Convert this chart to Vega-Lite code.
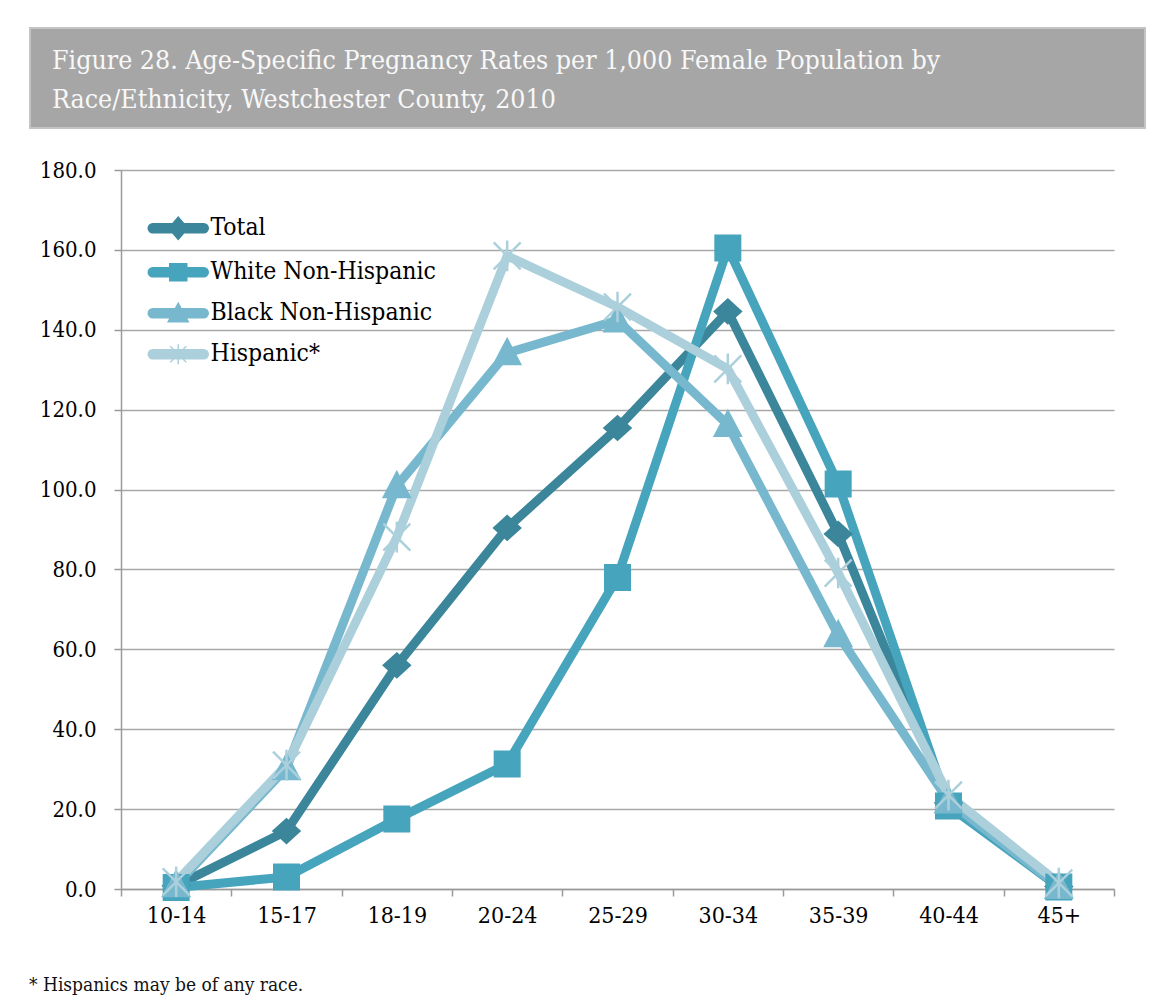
{
  "$schema": "https://vega.github.io/schema/vega-lite/v6.json",
  "padding": {"left": 29, "top": 27, "right": 10, "bottom": 0},
  "background": "white",
  "config": {"font": "DejaVu Serif Condensed", "view": {"stroke": null}},
  "spacing": 30,
  "resolve": {"legend": {"color": "independent"}},
  "title": {
    "text": "* Hispanics may be of any race.", "orient": "bottom", "anchor": "start", "frame": "bounds",
    "dx": 0, "offset": 49, "fontSize": 19, "fontWeight": "normal", "color": "#111111"
  },
  "vconcat": [
    {
      "width": 1115,
      "height": 100,
      "view": {"fill": "#a6a6a6", "stroke": "#c4c4c4", "strokeWidth": 2},
      "title": {
        "text": ["Figure 28. Age-Specific Pregnancy Rates per 1,000 Female Population by", "Race/Ethnicity, Westchester County, 2010"],
        "anchor": "start", "frame": "group", "orient": "top", "offset": -85, "dx": 22,
        "fontSize": 26.5, "fontWeight": "normal", "color": "#f8f8f8", "lineHeight": 39
      },
      "data": {"values": [{"a": 0}]},
      "mark": {"type": "text"},
      "encoding": {"text": {"value": ""}}
    },
    {
      "resolve": {"legend": {"color": "independent"}},
      "spacing": 8,
      "hconcat": [
        {
          "width": 1,
          "height": 10,
          "data": {"values": [{"a": 0}]},
          "mark": {"type": "text"},
          "encoding": {"text": {"value": ""}}
        },
        {
          "width": 993,
          "height": 719,
          "data": {"values": [
            {"age": "10-14", "group": "Total", "rate": 0.8},
            {"age": "15-17", "group": "Total", "rate": 14.5},
            {"age": "18-19", "group": "Total", "rate": 56.0},
            {"age": "20-24", "group": "Total", "rate": 90.4},
            {"age": "25-29", "group": "Total", "rate": 115.4},
            {"age": "30-34", "group": "Total", "rate": 144.6},
            {"age": "35-39", "group": "Total", "rate": 88.9},
            {"age": "40-44", "group": "Total", "rate": 21.5},
            {"age": "45+", "group": "Total", "rate": 0.6},
            {"age": "10-14", "group": "White Non-Hispanic", "rate": 0.4},
            {"age": "15-17", "group": "White Non-Hispanic", "rate": 3.0},
            {"age": "18-19", "group": "White Non-Hispanic", "rate": 17.5},
            {"age": "20-24", "group": "White Non-Hispanic", "rate": 31.3},
            {"age": "25-29", "group": "White Non-Hispanic", "rate": 78.0},
            {"age": "30-34", "group": "White Non-Hispanic", "rate": 160.5},
            {"age": "35-39", "group": "White Non-Hispanic", "rate": 101.4},
            {"age": "40-44", "group": "White Non-Hispanic", "rate": 20.8},
            {"age": "45+", "group": "White Non-Hispanic", "rate": 0.5},
            {"age": "10-14", "group": "Black Non-Hispanic", "rate": 1.0},
            {"age": "15-17", "group": "Black Non-Hispanic", "rate": 30.3},
            {"age": "18-19", "group": "Black Non-Hispanic", "rate": 100.9},
            {"age": "20-24", "group": "Black Non-Hispanic", "rate": 134.2},
            {"age": "25-29", "group": "Black Non-Hispanic", "rate": 142.4},
            {"age": "30-34", "group": "Black Non-Hispanic", "rate": 116.2},
            {"age": "35-39", "group": "Black Non-Hispanic", "rate": 63.6},
            {"age": "40-44", "group": "Black Non-Hispanic", "rate": 22.0},
            {"age": "45+", "group": "Black Non-Hispanic", "rate": 0.6},
            {"age": "10-14", "group": "Hispanic*", "rate": 1.8},
            {"age": "15-17", "group": "Hispanic*", "rate": 31.0},
            {"age": "18-19", "group": "Hispanic*", "rate": 88.1},
            {"age": "20-24", "group": "Hispanic*", "rate": 158.5},
            {"age": "25-29", "group": "Hispanic*", "rate": 145.7},
            {"age": "30-34", "group": "Hispanic*", "rate": 130.2},
            {"age": "35-39", "group": "Hispanic*", "rate": 79.1},
            {"age": "40-44", "group": "Hispanic*", "rate": 23.5},
            {"age": "45+", "group": "Hispanic*", "rate": 1.5}
          ]},
          "encoding": {
            "x": {
              "field": "age", "type": "ordinal", "sort": null,
              "scale": {"type": "band", "paddingInner": 0, "paddingOuter": 0},
              "axis": {
                "title": null, "labelAngle": 0, "labelFontSize": 23, "labelColor": "#000000", "labelPadding": 8,
                "tickBand": "extent", "tickSize": 7, "tickColor": "#9a9a9a", "tickWidth": 1.5,
                "domainColor": "#9a9a9a", "domainWidth": 1.5, "grid": false
              }
            },
            "y": {
              "field": "rate", "type": "quantitative",
              "scale": {"domain": [0, 180], "nice": false},
              "axis": {
                "title": null, "values": [0, 20, 40, 60, 80, 100, 120, 140, 160, 180], "format": ".1f",
                "grid": true, "gridColor": "#a8a8a8", "gridWidth": 1.5,
                "tickSize": 7, "tickColor": "#9a9a9a", "tickWidth": 1.5,
                "domainColor": "#9a9a9a", "domainWidth": 1.5,
                "labelFontSize": 22, "labelPadding": 18, "labelColor": "#000000"
              }
            }
          },
          "layer": [
            {
              "mark": {"type": "line", "strokeWidth": 9, "strokeJoin": "round", "strokeCap": "round"},
              "encoding": {
                "color": {
                  "field": "group", "type": "nominal",
                  "scale": {
                    "domain": ["Total", "White Non-Hispanic", "Black Non-Hispanic", "Hispanic*"],
                    "range": ["#3b869a", "#46a4bc", "#78b8ce", "#acd0db"]
                  },
                  "legend": {
                    "title": null, "orient": "none", "legendX": 45, "legendY": 46, "padding": 0,
                    "labelFontSize": 24.5, "labelColor": "#000000", "labelOffset": 20, "rowPadding": 16,
                    "labelLimit": 0, "symbolSize": 400,
                    "encode": {
                      "symbols": {
                        "update": {
                          "shape": {"signal": "datum.value === 'Total' ? 'M-2.55,-0.45H2.55A0.45,0.45 0 0 1 2.55,0.45H-2.55A0.45,0.45 0 0 1 -2.55,-0.45ZM0,-1.1L0.95,0L0,1.1L-0.95,0Z' : datum.value === 'White Non-Hispanic' ? 'M-2.55,-0.45H2.55A0.45,0.45 0 0 1 2.55,0.45H-2.55A0.45,0.45 0 0 1 -2.55,-0.45ZM-0.85,-0.85H0.85V0.85H-0.85Z' : datum.value === 'Black Non-Hispanic' ? 'M-2.55,-0.45H2.55A0.45,0.45 0 0 1 2.55,0.45H-2.55A0.45,0.45 0 0 1 -2.55,-0.45ZM0,-1L1,0.85L-1,0.85Z' : 'M-2.55,-0.45H2.55A0.45,0.45 0 0 1 2.55,0.45H-2.55A0.45,0.45 0 0 1 -2.55,-0.45ZM-0.8,-0.8L0.8,0.8M0.8,-0.8L-0.8,0.8M0,-1L0,1'"},
                          "fill": {"scale": "color", "field": "value"},
                          "stroke": {"scale": "color", "field": "value"},
                          "strokeWidth": {"value": 1.5},
                          "opacity": {"value": 1},
                          "size": {"value": 400}
                        }
                      }
                    }
                  }
                }
              }
            },
            {
              "transform": [{"filter": "datum.group === 'Total'"}],
              "mark": {"type": "point", "filled": true, "size": 600, "opacity": 1, "strokeWidth": 2.5,
                       "shape": "M0,-0.95L1.05,0L0,0.95L-1.05,0Z", "fill": "#3b869a", "stroke": "#3b869a"}
            },
            {
              "transform": [{"filter": "datum.group === 'White Non-Hispanic'"}],
              "mark": {"type": "point", "filled": true, "size": 600, "opacity": 1, "strokeWidth": 2.5,
                       "shape": "M-1,-1H1V1H-1Z", "fill": "#46a4bc", "stroke": "#46a4bc"}
            },
            {
              "transform": [{"filter": "datum.group === 'Black Non-Hispanic'"}],
              "mark": {"type": "point", "filled": true, "size": 600, "opacity": 1, "strokeWidth": 2.5,
                       "shape": "M0,-1.1L1.05,0.9L-1.05,0.9Z", "fill": "#78b8ce", "stroke": "#78b8ce"}
            },
            {
              "transform": [{"filter": "datum.group === 'Hispanic*'"}],
              "mark": {"type": "point", "filled": false, "size": 600, "opacity": 1, "strokeWidth": 2.5,
                       "shape": "M-1.1,-1.1L1.1,1.1M1.1,-1.1L-1.1,1.1M0,-1.25L0,1.25", "stroke": "#acd0db"}
            }
          ]
        }
      ]
    }
  ]
}
